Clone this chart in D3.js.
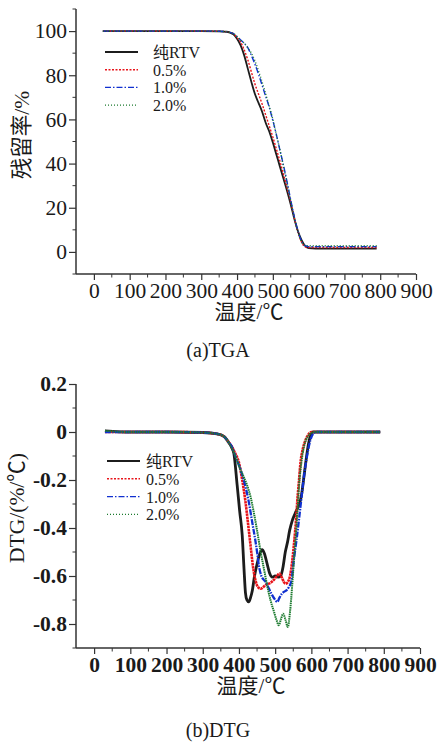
<!DOCTYPE html>
<html>
<head>
<meta charset="utf-8">
<script src="https://cdn.jsdelivr.net/npm/d3@7"></script>
<style>
  body { margin: 0; background: #fff; }
  text { font-family: "Liberation Serif", "DejaVu Serif", serif; fill: #1a1a1a; }
  .cjk { font-family: "Liberation Serif", "Noto Sans CJK SC", serif; }
</style>
</head>
<body>
<svg id="chart" width="437" height="745"></svg>
<script>
// series labels shared by both panels
var seriesNames = ['纯RTV', '0.5%', '1.0%', '2.0%'];

// TGA residue (%) vs temperature
var tgaTemp = [25, 100, 200, 300, 350, 370, 380, 390, 400, 410, 420, 430, 440, 450, 460, 470, 480, 490, 500, 510, 520, 530, 540, 550, 560, 570, 580, 590, 600, 620, 700, 790];
var tgaPure = [100, 100, 100, 100, 99.9, 99.7, 99.3, 98.5, 96.5, 93.5, 89, 83, 77, 71.5, 67.5, 63.5, 58.5, 54.5, 49.5, 44, 38.5, 33, 27.5, 21.5, 15, 9.5, 5.5, 2.8, 1.7, 1.5, 1.5, 1.5];
var tga05 = [100, 100, 100, 100, 99.9, 99.7, 99.4, 98.8, 97, 95, 91.5, 87, 81.5, 76, 71.5, 67, 62, 57, 52, 46.5, 41, 35, 29, 22.5, 15.5, 9, 4.5, 2.3, 2.0, 2.0, 2.0, 2.0];
var tga10 = [100, 100, 100, 100, 99.9, 99.7, 99.4, 98.9, 97.5, 96, 94.5, 92.5, 89, 85, 80.5, 75.5, 70.5, 65.5, 59.5, 53, 46, 39, 31.5, 23.5, 16, 9.5, 5, 2.8, 2.4, 2.4, 2.4, 2.4];
var tga20 = [100, 100, 100, 100, 99.9, 99.7, 99.4, 98.9, 97.5, 96, 94.5, 92.5, 90, 86.5, 82, 77, 71.5, 66, 60, 53, 46, 38.5, 31, 23, 15.5, 9, 4.5, 3, 2.8, 2.8, 2.8, 2.8];

// DTG (%/℃) vs temperature
var dtgPureT = [30, 100, 200, 300, 340, 360, 370, 380, 386, 395, 402, 409, 414, 418, 422, 427, 432, 437, 443, 450, 457, 464, 470, 478, 485, 492, 500, 508, 515, 522, 528, 534, 540, 547, 555, 561, 567, 573, 580, 586, 592, 598, 605, 620, 700, 790];
var dtgPure = [0.005, 0, 0, -0.002, -0.008, -0.02, -0.04, -0.065, -0.09, -0.22, -0.33, -0.43, -0.57, -0.67, -0.7, -0.708, -0.69, -0.66, -0.6, -0.55, -0.51, -0.49, -0.505, -0.55, -0.59, -0.605, -0.6, -0.605, -0.6, -0.56, -0.5, -0.46, -0.41, -0.37, -0.34, -0.32, -0.3, -0.26, -0.18, -0.11, -0.05, -0.015, 0, 0, 0, 0];
var dtg05T = [30, 100, 200, 300, 340, 360, 370, 380, 390, 400, 409, 418, 425, 432, 437, 441, 446, 452, 460, 468, 476, 483, 490, 497, 505, 512, 518, 524, 529, 535, 541, 547, 553, 558, 561, 566, 570, 575, 580, 589, 600, 620, 700, 790];
var dtg05 = [0, 0, 0, -0.002, -0.008, -0.02, -0.04, -0.06, -0.09, -0.127, -0.2, -0.29, -0.38, -0.473, -0.54, -0.583, -0.62, -0.645, -0.653, -0.645, -0.635, -0.632, -0.625, -0.615, -0.6, -0.59, -0.605, -0.625, -0.632, -0.625, -0.6, -0.54, -0.45, -0.36, -0.29, -0.2, -0.127, -0.08, -0.05, -0.017, 0, 0, 0, 0];
var dtg10T = [30, 100, 200, 300, 340, 360, 370, 380, 390, 404, 415, 427, 436, 446, 451, 455, 462, 468, 474, 482, 490, 498, 506, 512, 518, 524, 531, 538, 545, 552, 559, 566, 573, 580, 588, 598, 606, 615, 700, 790];
var dtg10 = [0, 0, 0, -0.002, -0.008, -0.02, -0.04, -0.06, -0.1, -0.155, -0.21, -0.29, -0.37, -0.459, -0.51, -0.556, -0.6, -0.615, -0.625, -0.65, -0.675, -0.695, -0.708, -0.69, -0.675, -0.666, -0.66, -0.646, -0.62, -0.528, -0.45, -0.362, -0.27, -0.18, -0.1, -0.03, -0.005, 0, 0, 0];
var dtg20T = [30, 100, 200, 300, 340, 360, 370, 380, 386, 395, 405, 414, 423, 432, 441, 450, 460, 469, 478, 487, 497, 504, 510, 516, 522, 528, 535, 541, 547, 552, 557, 562, 566, 573, 580, 590, 598, 610, 700, 790];
var dtg20 = [0.005, 0, 0, -0.002, -0.008, -0.02, -0.04, -0.065, -0.085, -0.12, -0.16, -0.19, -0.224, -0.27, -0.335, -0.41, -0.5, -0.57, -0.64, -0.7, -0.75, -0.785, -0.805, -0.78, -0.757, -0.78, -0.812, -0.75, -0.64, -0.53, -0.43, -0.32, -0.224, -0.12, -0.058, -0.02, -0.005, 0, 0, 0];

var xTicks = [0, 100, 200, 300, 400, 500, 600, 700, 800, 900];
var tgaTicks = [0, 20, 40, 60, 80, 100];
var dtgTicks = [0.2, 0, -0.2, -0.4, -0.6, -0.8];

var colors = ['#1c1c1c', '#e8141a', '#1030d0', '#1b7a2e'];
var legendDash = [null, '2,1.5', '6,2,1.5,2', '1,2'];

var svg = d3.select('#chart');

function zip(t, v) {
  return t.map(function (d, i) { return { t: d, v: v[i] }; });
}

function panel(opt) {
  var g = svg.append('g');
  var x = d3.scaleLinear().domain([-50, 900]).range([opt.left, opt.right]);
  var y = d3.scaleLinear().domain(opt.yDomain).range([opt.bottom, opt.top]);

  // minor ticks
  var xMinor = d3.range(50, 900, 100);
  g.selectAll('.xm').data(xMinor).enter().append('line')
    .attr('x1', x).attr('x2', x)
    .attr('y1', opt.bottom).attr('y2', opt.bottom + 3.5)
    .attr('stroke', '#333').attr('stroke-width', 1);
  g.selectAll('.ym').data(opt.yMinor).enter().append('line')
    .attr('y1', y).attr('y2', y)
    .attr('x1', opt.left).attr('x2', opt.left - 3.5)
    .attr('stroke', '#333').attr('stroke-width', 1);

  var xAxis = g.append('g')
    .attr('transform', 'translate(0,' + opt.bottom + ')')
    .call(d3.axisBottom(x).tickValues(xTicks).tickSize(6).tickSizeOuter(0).tickPadding(3));
  var yAxis = g.append('g')
    .attr('transform', 'translate(' + opt.left + ',0)')
    .call(d3.axisLeft(y).tickValues(opt.yTicks).tickSize(7).tickSizeOuter(0).tickPadding(2)
      .tickFormat(opt.yFormat));

  [xAxis, yAxis].forEach(function (a) {
    a.select('.domain').attr('stroke', '#333').attr('stroke-width', 1.5);
    a.selectAll('.tick line').attr('stroke', '#333').attr('stroke-width', 1.2);
    a.selectAll('text')
      .style('font-family', '"Liberation Serif", serif')
      .style('font-size', '21.5px')
      .style('font-weight', opt.bold ? 'bold' : 'normal')
      .attr('fill', '#1a1a1a');
  });
  xAxis.select('.domain').attr('d', 'M' + opt.left + ',0H' + opt.right);
  yAxis.select('.domain').attr('d', 'M0,' + opt.top + 'V' + opt.bottom);

  var line = d3.line()
    .x(function (d) { return x(d.t); })
    .y(function (d) { return y(d.v); })
    .curve(d3.curveMonotoneX);

  opt.series.forEach(function (s, i) {
    g.append('path')
      .datum(s)
      .attr('fill', 'none')
      .attr('stroke', colors[i])
      .attr('stroke-width', opt.widths[i])
      .attr('stroke-dasharray', opt.dash[i])
      .attr('d', line);
  });

  // legend
  var lg = g.append('g');
  seriesNames.forEach(function (name, i) {
    var yy = opt.legY + i * opt.legStep;
    lg.append('line')
      .attr('x1', opt.legX).attr('x2', opt.legX + 33)
      .attr('y1', yy).attr('y2', yy)
      .attr('stroke', colors[i])
      .attr('stroke-width', i === 0 ? 1.8 : 1.4)
      .attr('stroke-dasharray', legendDash[i]);
    lg.append('text')
      .attr('class', 'cjk')
      .attr('x', opt.legTextX).attr('y', yy + 6)
      .style('font-size', '16px')
      .text(name);
  });

  // axis titles
  g.append('text')
    .attr('class', 'cjk')
    .attr('x', (opt.left + opt.right) / 2 + 3).attr('y', opt.bottom + 45)
    .attr('text-anchor', 'middle')
    .style('font-size', '21px')
    .text('温度/℃');
  g.append('text')
    .attr('class', 'cjk')
    .attr('transform', 'translate(' + opt.yLabelX + ',' + opt.yLabelY + ') rotate(-90)')
    .attr('text-anchor', 'middle')
    .style('font-size', '21.5px')
    .text(opt.yLabel);

  g.append('text')
    .attr('x', 218).attr('y', opt.captionY)
    .attr('text-anchor', 'middle')
    .style('font-size', '20px')
    .text(opt.caption);
}

panel({
  left: 76, right: 416, top: 9, bottom: 274,
  yDomain: [-10, 110], yTicks: tgaTicks, yMinor: d3.range(-10, 111, 20),
  yFormat: d3.format('d'), bold: false,
  series: [zip(tgaTemp, tgaPure), zip(tgaTemp, tga05), zip(tgaTemp, tga10), zip(tgaTemp, tga20)],
  widths: [1.8, 1.4, 1.4, 1.4],
  dash: [null, '2,1.5', '6,2,1.5,2', '1,2'],
  legX: 105, legTextX: 153, legY: 52, legStep: 17.7,
  yLabel: '残留率/%', yLabelX: 29, yLabelY: 135,
  caption: '(a)TGA', captionY: 357
});

panel({
  left: 76, right: 420, top: 384, bottom: 648,
  yDomain: [-0.9, 0.2], yTicks: dtgTicks, yMinor: [0.1, -0.1, -0.3, -0.5, -0.7, -0.9],
  yFormat: function (d) { return d === 0 ? '0' : d3.format('.1f')(d).replace('−', '-'); }, bold: true,
  series: [zip(dtgPureT, dtgPure), zip(dtg05T, dtg05), zip(dtg10T, dtg10), zip(dtg20T, dtg20)],
  widths: [2.8, 2.6, 2.3, 2],
  dash: [null, '2.5,0.6', '6,1.2,1.5,1.2', '1.5,0.7'],
  legX: 107, legTextX: 146, legY: 461, legStep: 17.8,
  yLabel: 'DTG/(%/℃)', yLabelX: 24, yLabelY: 508,
  caption: '(b)DTG', captionY: 737
});
</script>
</body>
</html>
